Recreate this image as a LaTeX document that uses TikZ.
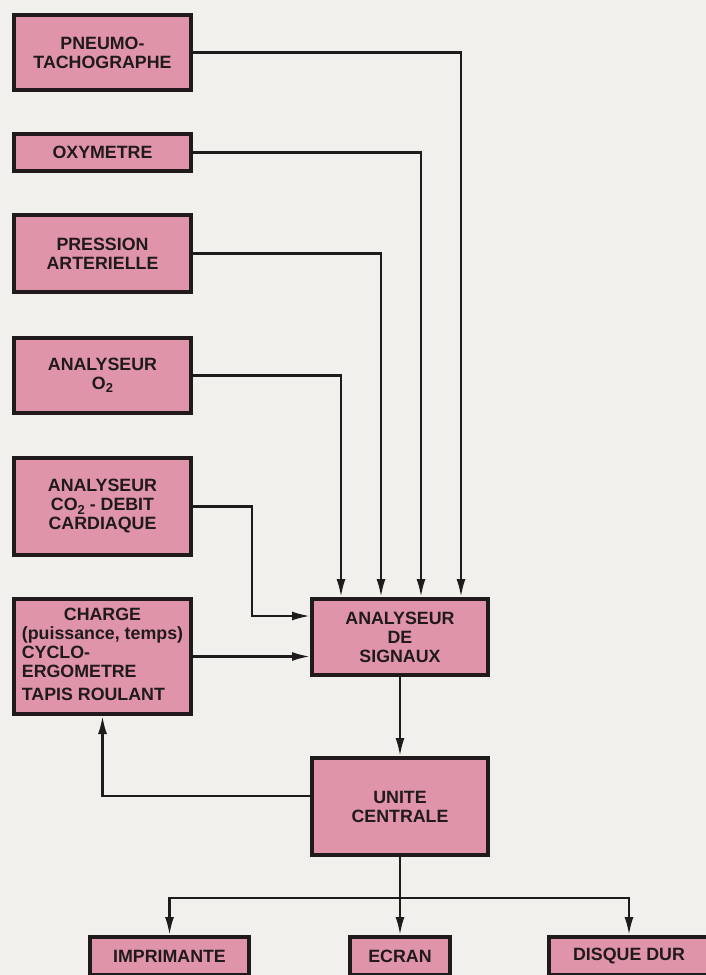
\documentclass[tikz,border=0pt]{standalone}
\usepackage{fontspec}
\setmainfont{Liberation Sans}
\usepackage{tikz}
\usetikzlibrary{arrows.meta,positioning}
\definecolor{unitpink}{RGB}{224, 148, 170}
\definecolor{unitline}{RGB}{32, 26, 28}
\definecolor{paper}{RGB}{241, 240, 236}
\tikzstyle{unit} = [rectangle, draw=unitline, line width=4.2pt, fill=unitpink, text=unitline, align=center, inner sep=0pt, font=\bfseries\fontsize{17.8}{19}\selectfont]
\tikzstyle{sensor} = [unit, minimum width=176.8pt]
\tikzstyle{tedge}  = [draw, line width=2.3pt, color=unitline, -{Latex[length=18pt,width=9pt]}]
\tikzstyle{tline}  = [draw, line width=2.3pt, color=unitline]
\newcommand{\lowidx}[1]{\raisebox{-0.35ex}{\fontsize{13}{13}\selectfont #1}}

\begin{document}
\begin{tikzpicture}

\fill[paper] (0pt,0pt) rectangle (706pt,-975pt);
\useasboundingbox (0pt,0pt) rectangle (706pt,-975pt);

% sensors =============================
\node[sensor, minimum height=74.8pt] (pneumo) at (102.5pt,-52.5pt) {PNEUMO-\\TACHOGRAPHE};
\node[sensor, minimum height=36.8pt, below=40pt of pneumo] (oxy) {OXYMETRE};
\node[sensor, minimum height=76.8pt, below=40pt of oxy] (pression) {PRESSION\\ARTERIELLE};
\node[sensor, minimum height=74.8pt, below=42pt of pression] (otwo) {ANALYSEUR\\O\lowidx{2}};
\node[sensor, minimum height=96.8pt, below=41pt of otwo] (cotwo) {ANALYSEUR\\CO\lowidx{2} - DEBIT\\CARDIAQUE};
\node[sensor, minimum height=114.8pt, below=40pt of cotwo] (charge) {\begin{tabular}{@{}l@{}}\multicolumn{1}{@{}c@{}}{CHARGE}\\(puissance, temps)\\CYCLO-\\ERGOMETRE\\[4pt]TAPIS ROULANT\end{tabular}};

% processing
\node[unit, minimum width=175.8pt, minimum height=75.8pt, right=117pt of charge.north east, anchor=north west] (signaux) {ANALYSEUR\\DE\\SIGNAUX};
\node[unit, minimum width=175.8pt, minimum height=96.8pt, below=79pt of signaux] (unite) {UNITE\\CENTRALE};

% outputs
\node[unit, minimum width=99.8pt, minimum height=37.8pt, below=78pt of unite] (ecran) {ECRAN};
\node[unit, minimum width=158.8pt, minimum height=37.8pt, left=97pt of ecran] (imprimante) {IMPRIMANTE};
\node[unit, minimum width=159.8pt, minimum height=37.8pt, right=95pt of ecran] (disque) {DISQUE DUR};

% edges
\path[tedge] (pneumo.east) -| ([xshift=61pt]signaux.north);
\path[tedge] (oxy.east) -| ([xshift=21pt]signaux.north);
\path[tedge] (pression.east) -| ([xshift=-19pt]signaux.north);
\path[tedge] (otwo.east) -| ([xshift=-59pt]signaux.north);
\path[tedge] (cotwo.east) -- ++(59pt,0pt) |- ([yshift=21pt]signaux.west);
\path[tedge] (charge.east) -- (charge.east -| signaux.west);
\path[tedge] (signaux.south) -- (unite.north);
\path[tedge] ([yshift=10.5pt]unite.west) -| (charge.south);
\path[tline] (unite.south) -- ++(0pt,-41pt) coordinate (bus);
\path[tedge] (bus) -| (imprimante.north);
\path[tedge] (bus) -- (ecran.north);
\path[tedge] (bus) -| (disque.north);

\end{tikzpicture}
\end{document}
